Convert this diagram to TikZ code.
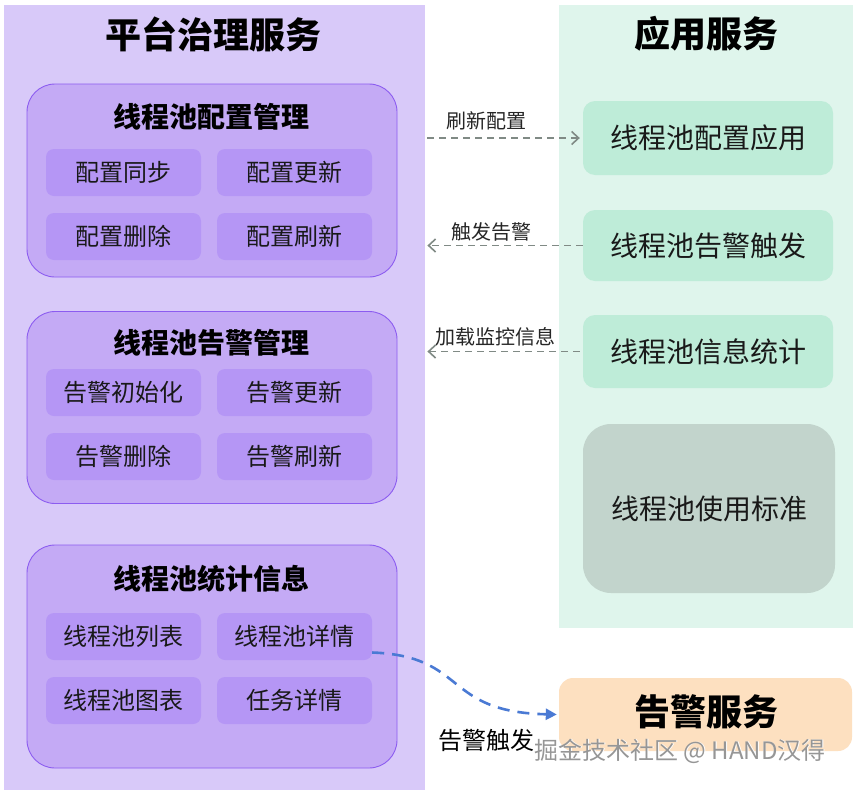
\documentclass[tikz,border=0pt]{standalone}
\usepackage{fontspec}
\setmainfont{Noto Sans CJK SC}
\usetikzlibrary{arrows.meta}
\definecolor{leftbg}{RGB}{216,201,249}
\definecolor{grpfill}{RGB}{196,170,245}
\definecolor{grpline}{RGB}{140,92,240}
\definecolor{subfill}{RGB}{181,150,245}
\definecolor{rightbg}{RGB}{223,245,236}
\definecolor{appfill}{RGB}{190,236,216}
\definecolor{stdfill}{RGB}{194,212,204}
\definecolor{alertfill}{RGB}{253,224,192}
\definecolor{arrowgray}{RGB}{128,138,133}
\definecolor{arrowblue}{RGB}{74,122,212}
\definecolor{wmgray}{RGB}{150,150,150}
\newcommand{\fs}[1]{\fontsize{#1}{#1}\selectfont}
\tikzset{
  panelbox/.style={draw=none, anchor=north west, inner sep=0},
  grpbox/.style={draw=grpline, line width=0.9, fill=grpfill, rounded corners=28, minimum width=370, inner sep=0},
  grptitle/.style={font=\fs{28}\bfseries, text=black, inner sep=0},
  subbox/.style={fill=subfill, rounded corners=8, minimum width=155, minimum height=47, inner sep=0, font=\fs{24}, text=black!90},
  appbox/.style={fill=appfill, rounded corners=12, minimum width=250, inner sep=0, font=\fs{28}, text=black!90},
  bigtitle/.style={font=\fs{36}\bfseries, text=black, inner sep=0},
  flowlbl/.style={font=\fs{20}, text=black!85, inner sep=0},
  grayflow/.style={draw=arrowgray, line width=1.6, dash pattern=on 7pt off 5pt, -{Straight Barb[length=7pt,width=13pt,line width=1.6pt]}},
  blueflow/.style={draw=arrowblue, line width=2.6, dash pattern=on 12pt off 8pt, -{Triangle[length=11pt,width=11pt]}}
}
\begin{document}
\begin{tikzpicture}[x=1pt,y=-1pt]
\useasboundingbox (0,0) rectangle (854,790);
\fill[white] (0,0) rectangle (854,790);
% panels
\node[panelbox, fill=leftbg, minimum width=421, minimum height=785] (lp) at (4,5) {};
\node[panelbox, fill=rightbg, minimum width=294, minimum height=623] (rp) at (559,5) {};
\node[bigtitle] (lt) at (213,34) {平台治理服务};
\node[bigtitle] (rt) at (706,34) {应用服务};
% group 1
\node[grpbox, minimum height=193] (g1) at (212,180.5) {};
\node[grptitle] (g1t) at (211,117) {线程池配置管理};
\node[subbox] (s11) at (123.5,172.5) {配置同步};
\node[subbox] (s12) at (294.5,172.5) {配置更新};
\node[subbox] (s13) at (123.5,236.5) {配置删除};
\node[subbox] (s14) at (294.5,236.5) {配置刷新};
% group 2
\node[grpbox, minimum height=192] (g2) at (212,407.5) {};
\node[grptitle] (g2t) at (211,343) {线程池告警管理};
\node[subbox] (s21) at (123.5,392.5) {告警初始化};
\node[subbox] (s22) at (294.5,392.5) {告警更新};
\node[subbox] (s23) at (123.5,456.5) {告警删除};
\node[subbox] (s24) at (294.5,456.5) {告警刷新};
% group 3
\node[grpbox, minimum height=223] (g3) at (212,656.5) {};
\node[grptitle] (g3t) at (211,579) {线程池统计信息};
\node[subbox] (s31) at (123.5,636.5) {线程池列表};
\node[subbox] (s32) at (294.5,636.5) {线程池详情};
\node[subbox] (s33) at (123.5,700.5) {线程池图表};
\node[subbox] (s34) at (294.5,700.5) {任务详情};
% right boxes
\node[appbox, minimum height=74] (a1) at (708,138) {线程池配置应用};
\node[appbox, minimum height=71] (a2) at (708,245.5) {线程池告警触发};
\node[appbox, minimum height=73] (a3) at (708,351.5) {线程池信息统计};
\node[appbox, fill=stdfill, rounded corners=28, minimum width=252, minimum height=169] (a4) at (709,508.5) {线程池使用标准};
% alert service
\node[fill=alertfill, rounded corners=14, minimum width=293, minimum height=73, inner sep=0] (al) at (705.5,714.5) {};
\node[bigtitle] (alt) at (706,712) {告警服务};
% gray flows
\draw[grayflow] ([xshift=2]lp.east |- a1.west) -- ([xshift=-3]a1.west);
\node[flowlbl] (l1) at (486,121) {刷新配置};
\draw[grayflow] ([xshift=0]a2.west) -- ([xshift=2]lp.east |- a2.west);
\node[flowlbl] (l2) at (491,232) {触发告警};
\draw[grayflow] ([xshift=-3]a3.west) -- ([xshift=2]lp.east |- a3.west);
\node[flowlbl] (l3) at (495,337) {加载监控信息};
% blue flow
\draw[blueflow] ([yshift=-16]s32.east) .. controls (468,656) and (442,712) .. ([xshift=-2]al.west);
\node[font=\fs{24}, text=black, inner sep=0] (l4) at (486,740) {告警触发};
% watermark
\node[font=\fs{24}, text=white, inner sep=0] (wm0) at (680.8,751.8) {掘金技术社区 @ HAND汉得};
\node[font=\fs{24}, text=wmgray, inner sep=0] (wm) at (680,751) {掘金技术社区 @ HAND汉得};
\end{tikzpicture}
\end{document}
